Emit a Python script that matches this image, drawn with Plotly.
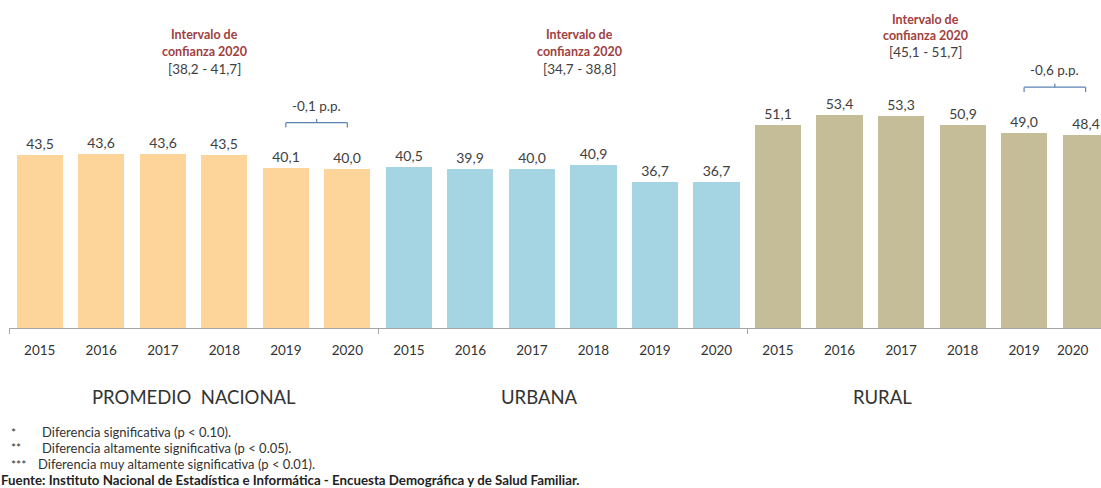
import plotly.graph_objects as go

years = ["2015", "2016", "2017", "2018", "2019", "2020"]
groups = ["PROMEDIO  NACIONAL", "URBANA", "RURAL"]
nacional = [43.5, 43.6, 43.6, 43.5, 40.1, 40.0]
urbana = [40.5, 39.9, 40.0, 40.9, 36.7, 36.7]
rural = [51.1, 53.4, 53.3, 50.9, 49.0, 48.4]
intervals = ["[38,2 - 41,7]", "[34,7 - 38,8]", "[45,1 - 51,7]"]
diffs = {0: "-0,1 p.p.", 2: "-0,6 p.p."}
colors = ["#FDD59B", "#A5D4E2", "#C4BD97"]

FONT = "Lato"
W, H = 1101, 488
ML = 9
PLOT_H = 328
PLOT_W = W - ML
PX_PER_UNIT = 3.98
YMAX = PLOT_H / PX_PER_UNIT

fig = go.Figure()
series = [nacional, urbana, rural]
n = len(years)
for gi, vals in enumerate(series):
    xs = [gi * n + i for i in range(n)]
    fig.add_trace(go.Bar(
        x=xs, y=vals, width=0.75,
        marker=dict(color=colors[gi], line=dict(width=0)),
        text=[f"{v:.1f}".replace(".", ",") for v in vals],
        textposition="outside", cliponaxis=False,
        textfont=dict(family=FONT, size=14, color="#404040"),
        showlegend=False, hoverinfo="skip",
    ))

def py2paper(py):
    return (PLOT_H - py) / PLOT_H

def px2paper(px):
    return (px - ML) / PLOT_W

annotations = []
# interval annotations
ix = [2.68, 8.78, 14.39]
iy = [35, 35, 19]
for gi in range(3):
    annotations.append(dict(x=ix[gi], y=py2paper(iy[gi]), xref="x", yref="paper", yanchor="middle",
                            text="<b>Intervalo de</b>", showarrow=False,
                            font=dict(family=FONT, size=12.5, color="#A0403F")))
    annotations.append(dict(x=ix[gi], y=py2paper(iy[gi] + 16.5), xref="x", yref="paper", yanchor="middle",
                            text="<b>confianza 2020</b>", showarrow=False,
                            font=dict(family=FONT, size=12.5, color="#A0403F")))
    annotations.append(dict(x=ix[gi], y=py2paper(iy[gi] + 33.5), xref="x", yref="paper", yanchor="middle",
                            text=intervals[gi], showarrow=False,
                            font=dict(family=FONT, size=13.5, color="#404040")))

# group labels
gx = [2.5, 8.13, 13.7]
for gi, g in enumerate(groups):
    annotations.append(dict(x=gx[gi], y=py2paper(397), xref="x", yref="paper", yanchor="middle",
                            text=g, showarrow=False,
                            font=dict(family=FONT, size=18.5, color="#333333")))

# last year label (pulled inside the visible area, as in the reference)
ticktext = years * 3
last_label = ticktext[-1]
ticktext[-1] = ""
annotations.append(dict(x=px2paper(1072), y=py2paper(350), xref="paper", yref="paper",
                        xanchor="center", yanchor="middle", text=last_label, showarrow=False,
                        font=dict(family=FONT, size=13.5, color="#333333")))

# brackets for differences
shapes = []
bcol = "#5B82B5"
for gi, label in diffs.items():
    vals = series[gi]
    x0 = gi * n + 4
    x1 = gi * n + 5
    top = max(vals[4], vals[5]) + 11.5
    xm = (x0 + x1) / 2
    shapes += [
        dict(type="line", xref="x", yref="y", x0=x0, x1=x1, y0=top, y1=top, line=dict(color=bcol, width=1.2)),
        dict(type="line", xref="x", yref="y", x0=x0, x1=x0, y0=top, y1=top - 1.2, line=dict(color=bcol, width=1.2)),
        dict(type="line", xref="x", yref="y", x0=x1, x1=x1, y0=top, y1=top - 1.2, line=dict(color=bcol, width=1.2)),
        dict(type="line", xref="x", yref="y", x0=xm, x1=xm, y0=top, y1=top + 0.9, line=dict(color=bcol, width=1.2)),
    ]
    annotations.append(dict(x=xm, y=top + 4.3, xref="x", yref="y", text=label,
                            showarrow=False, font=dict(family=FONT, size=13.5, color="#404040")))

# footnotes
notes = [("*", "Diferencia significativa (p < 0.10).", 432, 40),
         ("**", "Diferencia altamente significativa (p < 0.05).", 448, 40),
         ("***", "Diferencia muy altamente significativa (p < 0.01).", 464, 36)]
for star, txt, py, tx in notes:
    annotations.append(dict(x=px2paper(9), y=py2paper(py), xref="paper", yref="paper",
                            xanchor="left", yanchor="middle",
                            text=star, showarrow=False,
                            font=dict(family=FONT, size=12, color="#333333")))
    annotations.append(dict(x=px2paper(tx), y=py2paper(py), xref="paper", yref="paper",
                            xanchor="left", yanchor="middle",
                            text=txt, showarrow=False,
                            font=dict(family=FONT, size=13, color="#333333")))
annotations.append(dict(x=px2paper(-1), y=py2paper(480), xref="paper", yref="paper",
                        xanchor="left", yanchor="middle",
                        text="<b>Fuente: Instituto Nacional de Estadística e Informática - Encuesta Demográfica y de Salud Familiar.</b>",
                        showarrow=False, font=dict(family=FONT, size=13.3, color="#222222")))

fig.update_layout(
    width=W, height=H,
    margin=dict(l=ML, r=0, t=0, b=H - PLOT_H),
    plot_bgcolor="white", paper_bgcolor="white",
    bargap=0,
    xaxis=dict(range=[-0.5, 17.25], tickmode="array",
               tickvals=list(range(3 * n)), ticktext=ticktext,
               ticks="", showline=True, linecolor="#A6A6A6", linewidth=1,
               showgrid=False, zeroline=False, ticklabelstandoff=10,
               tickfont=dict(family=FONT, size=13.5, color="#333333"),
               minor=dict(tickmode="array", tickvals=[-0.5, 5.5, 11.5], ticks="outside",
                          ticklen=5, tickcolor="#A6A6A6", tickwidth=1, showgrid=False)),
    yaxis=dict(range=[0, YMAX], visible=False),
    annotations=annotations, shapes=shapes,
)
fig.write_html("out.html", config={"displayModeBar": False},
               post_script="document.body.style.margin='0';document.body.style.padding='0';")
